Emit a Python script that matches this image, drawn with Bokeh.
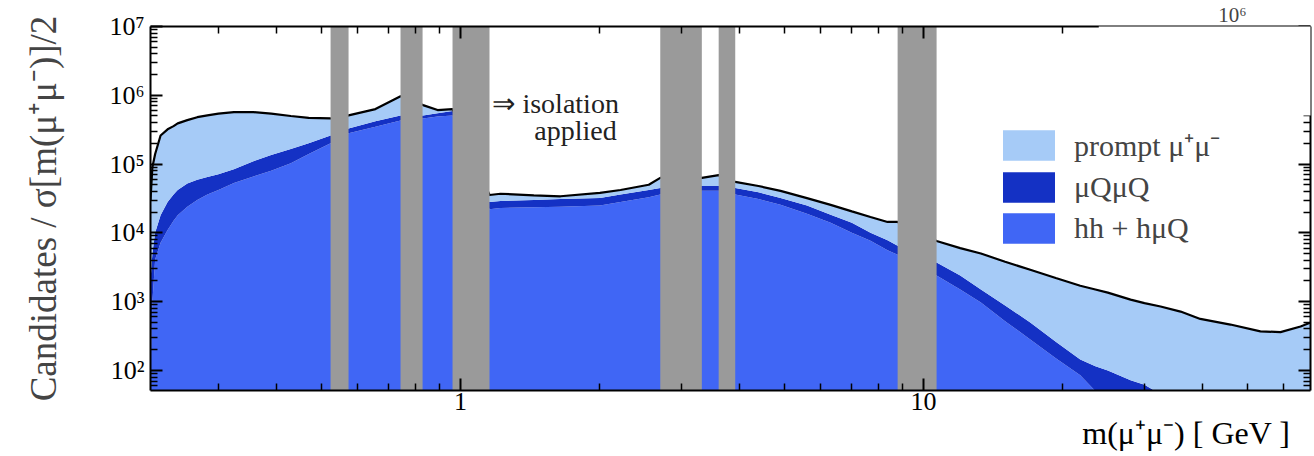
from bokeh.plotting import figure
from bokeh.models import (LogAxis, FixedTicker, CustomJSTickFormatter, BasicTickFormatter,
                          Legend, LegendItem, Label, BoxAnnotation, ColumnDataSource, Title)
from bokeh.embed import file_html
from bokeh.resources import INLINE

# ---------------- data ----------------
mass = [0.214, 0.216, 0.219, 0.225, 0.233, 0.240, 0.245, 0.257, 0.270, 0.284,
        0.300, 0.324, 0.357, 0.390, 0.430, 0.470, 0.524, 0.573, 0.655, 0.742,
        0.830, 0.892, 0.961, 1.155, 1.22, 1.44, 1.644, 2.0, 2.216, 2.55,
        2.70, 3.32, 3.61, 3.92, 4.4, 4.91, 5.6, 6.3, 7.0, 7.68,
        8.36, 8.79, 10.67, 12.0, 13.3, 15.0, 17.0, 19.3, 21.8, 23.5,
        25.0, 28.0, 30.0, 32.5, 35.9, 39.6, 46.0, 53.4, 59.0, 65.2, 68.6]

total = [3.0e4, 9.0e4, 1.4e5, 2.6e5, 3.2e5, 3.56e5, 3.9e5, 4.35e5, 4.8e5, 5.1e5,
         5.4e5, 5.7e5, 5.7e5, 5.4e5, 5.0e5, 4.7e5, 4.6e5, 5.1e5, 6.3e5, 9.7e5,
         7.2e5, 6.1e5, 6.3e5, 3.55e4, 3.7e4, 3.5e4, 3.4e4, 3.8e4, 4.2e4, 5.0e4,
         6.3e4, 6.3e4, 6.9e4, 5.5e4, 4.8e4, 4.07e4, 3.2e4, 2.55e4, 2.05e4, 1.7e4,
         1.44e4, 1.44e4, 7.6e3, 6.0e3, 5.0e3, 3.8e3, 2.9e3, 2.2e3, 1.7e3, 1.5e3,
         1.35e3, 1.07e3, 950, 850, 716, 560, 464, 370, 360, 434, 497]

hh_plus_qq = [2.0e3, 5.0e3, 1.0e4, 1.8e4, 2.8e4, 3.6e4, 4.2e4, 5.2e4, 5.9e4, 6.5e4,
              7.1e4, 8.4e4, 1.1e5, 1.35e5, 1.65e5, 2.0e5, 2.6e5, 3.3e5, 4.2e5, 5.1e5,
              5.1e5, 5.5e5, 5.9e5, 2.8e4, 2.9e4, 3.0e4, 3.1e4, 3.2e4, 3.6e4, 4.2e4,
              4.5e4, 4.8e4, 4.8e4, 4.5e4, 3.9e4, 3.2e4, 2.5e4, 1.83e4, 1.4e4, 1.0e4,
              7.8e3, 6.5e3, 3.7e3, 2.4e3, 1.5e3, 880, 497, 260, 144, 115,
              100, 72, 62, 45, 30, 20, 10, 6, 5, 4, 4]

hh = [100, 970, 4.1e3, 7.2e3, 1.1e4, 1.5e4, 1.8e4, 2.4e4, 3.0e4, 3.6e4,
      4.2e4, 5.3e4, 6.6e4, 8.0e4, 1.03e5, 1.4e5, 2.0e5, 2.8e5, 3.5e5, 4.3e5,
      4.6e5, 4.9e5, 5.1e5, 2.2e4, 2.3e4, 2.35e4, 2.4e4, 2.5e4, 2.8e4, 3.3e4,
      3.6e4, 4.1e4, 4.1e4, 3.6e4, 3.1e4, 2.55e4, 1.9e4, 1.4e4, 1.0e4, 7.7e3,
      5.6e3, 4.8e3, 2.4e3, 1.5e3, 970, 520, 281, 150, 85, 50,
      35, 20, 15, 10, 8, 6, 4, 3, 3, 2, 2]

floor = [1e-2] * len(mass)

veto_lo = [0.524, 0.742, 0.961, 2.70, 3.61, 8.79]
veto_hi = [0.573, 0.828, 1.155, 3.32, 3.92, 10.67]

x_major = [1, 10]
x_minor = [0.3, 0.4, 0.5, 0.6, 0.7, 0.8, 0.9, 2, 3, 4, 5, 6, 7, 8, 9, 20, 30, 40, 50, 60]
y_major = [1e2, 1e3, 1e4, 1e5, 1e6, 1e7]
y_minor = [k * 10 ** n for n in range(1, 7) for k in range(2, 10)]

legend_labels = ["prompt μ⁺μ⁻", "μQμQ", "hh + hμQ"]
x_title = "m(μ⁺μ⁻)   [ GeV ]"
y_title = "Candidates / σ[m(μ⁺μ⁻)]/2"
corner_text = "10⁶"

C_PROMPT = "#a6cbf7"
C_QQ = "#1431c4"
C_HH = "#4066f5"
C_VETO = "#9a9a9a"
FONT = "Liberation Serif"

# ---------------- figure ----------------
p = figure(width=1314, height=456, x_axis_type="log", y_axis_type="log",
           x_range=(0.214, 68.5), y_range=(51, 1.0e7),
           output_backend="svg", toolbar_location=None,
           min_border_left=150, min_border_right=4, min_border_top=22, min_border_bottom=66)
p.outline_line_color = None
p.grid.visible = False
p.background_fill_color = "white"

# small corner text of the neighbouring (cropped) panel, top right
p.title.text = corner_text
p.title.align = "right"
p.title.offset = 64
p.title.standoff = 0
p.title.text_font = FONT
p.title.text_font_size = "21px"
p.title.text_font_style = "normal"

bottom_ax = p.xaxis[0]
left_ax = p.yaxis[0]

src = ColumnDataSource(dict(m=mass, total=total, mid=hh_plus_qq, hh=hh, floor=floor))

r_hh = p.varea(x="m", y1="floor", y2="hh", source=src, fill_color=C_HH)
r_qq = p.varea(x="m", y1="hh", y2="mid", source=src, fill_color=C_QQ)
r_pr = p.varea(x="m", y1="mid", y2="total", source=src, fill_color=C_PROMPT)
p.line(x="m", y="total", source=src, line_color="black", line_width=2.2)

vsrc = ColumnDataSource(dict(l=veto_lo, r=veto_hi, b=[1e-3] * len(veto_lo), t=[1e12] * len(veto_lo)))
p.quad(left="l", right="r", bottom="b", top="t", source=vsrc, fill_color=C_VETO, line_color=None)

# ---------------- axes ----------------
xt = FixedTicker(ticks=x_major, minor_ticks=x_minor)
yt = FixedTicker(ticks=y_major, minor_ticks=y_minor)

sup_code = """
const sup = {"0":"⁰","1":"¹","2":"²","3":"³","4":"⁴","5":"⁵","6":"⁶","7":"⁷","8":"⁸","9":"⁹","-":"⁻"};
const e = Math.round(Math.log10(tick));
return "10" + String(e).split("").map(c => sup[c]).join("");
"""

bottom_ax.ticker = xt
bottom_ax.formatter = BasicTickFormatter()
left_ax.ticker = yt
left_ax.formatter = CustomJSTickFormatter(code=sup_code)

top_ax = LogAxis(ticker=xt, formatter=CustomJSTickFormatter(code="return ''"))
right_ax = LogAxis(ticker=yt, formatter=CustomJSTickFormatter(code="return ''"))
p.add_layout(top_ax, "above")
p.add_layout(right_ax, "right")

for ax in [bottom_ax, left_ax, top_ax, right_ax]:
    ax.major_tick_in = 12
    ax.major_tick_out = 0
    ax.minor_tick_in = 7
    ax.minor_tick_out = 0
    ax.axis_line_width = 2
    ax.axis_line_color = "black"
    ax.major_tick_line_width = 2
    ax.minor_tick_line_width = 1.5
    ax.major_tick_line_color = "black"
    ax.minor_tick_line_color = "black"
    ax.major_label_text_font = FONT
    ax.major_label_text_font_size = "26px"
    ax.major_label_text_color = "black"

for ax in [top_ax, right_ax]:
    ax.major_label_text_font_size = "1px"
    ax.major_label_standoff = 0

left_ax.major_label_standoff = 6
bottom_ax.major_label_standoff = 2
left_ax.axis_label = y_title
left_ax.axis_label_text_font = FONT
left_ax.axis_label_text_font_style = "normal"
left_ax.axis_label_text_font_size = "37px"
left_ax.axis_label_standoff = 42

# x-axis title as a right-aligned title below the axis
xt_title = Title(text=x_title, align="right", offset=4, standoff=0,
                 text_font=FONT, text_font_size="32px", text_font_style="normal",
                 text_color="black")
p.add_layout(xt_title, "below")

# ---------------- texts ----------------
p.add_layout(Label(x=1.172, y=7.6e5, text="⇒ isolation", text_font=FONT, text_font_size="28px",
                   text_align="left", text_baseline="middle", text_color="#222222"))
p.add_layout(Label(x=1.772, y=3.1e5, text="applied", text_font=FONT, text_font_size="28px",
                   text_align="center", text_baseline="middle", text_color="#222222"))

# white cover where the neighbouring panel overlaps the frame (top right)
p.add_layout(BoxAnnotation(left=23.9, right=1e4, bottom=5.1e5, top=1e12,
                           fill_color="white", fill_alpha=1.0, line_color=None, level="overlay"))

# ---------------- legend ----------------
legend = Legend(items=[LegendItem(label=legend_labels[0], renderers=[r_pr]),
                       LegendItem(label=legend_labels[1], renderers=[r_qq]),
                       LegendItem(label=legend_labels[2], renderers=[r_hh])],
                location=(846, 143), glyph_width=65, glyph_height=38, spacing=3,
                padding=0, margin=0, border_line_color=None, background_fill_alpha=0,
                label_text_font=FONT, label_text_font_size="30px", label_standoff=13,
                label_height=38)
p.add_layout(legend)

open("out.html", "w").write(file_html(p, INLINE))
